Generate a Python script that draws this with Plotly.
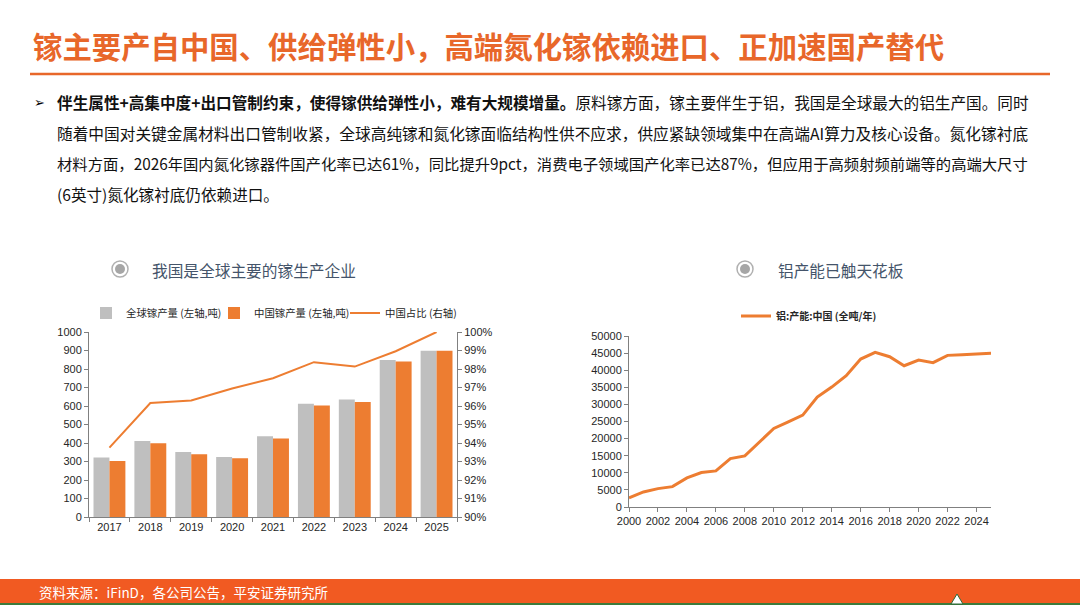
import plotly.graph_objects as go

W, H = 1080, 608

# 左图：镓产量 (吨) 与中国占比
years_ga = ["2017", "2018", "2019", "2020", "2021", "2022", "2023", "2024", "2025"]
global_ga = [321, 411, 352, 325, 436, 612, 635, 849, 899]
china_ga = [303, 398, 339, 318, 425, 603, 621, 840, 899]
china_share = [0.9375, 0.9616, 0.9630, 0.9695, 0.9750, 0.9837, 0.9813, 0.9896, 1.0]

# 右图：中国铝产能
years_al = list(range(2000, 2026))
al_capacity = [2640, 4400, 5370, 5960, 8500, 10060, 10550, 14160, 14940, 18950,
               22950, 24900, 26860, 32130, 35060, 38380, 43260, 45210, 43950, 41310,
               42970, 42190, 44340, 44530, 44730, 44920]

ORANGE = "#ED7D31"
GREY = "#BFBFBF"
TITLE_ORANGE = "#E8672A"
CJK = "Noto Sans CJK SC"
TICK_FONT = dict(family="Liberation Sans, Arial", size=11, color="#262626")


def px(x):
    return x / W


def py(y):
    return 1 - y / H


def legend_at(x, y, size=10.4):
    return dict(orientation="h", x=px(x), y=py(y), xanchor="left", yanchor="middle",
                font=dict(family=CJK, size=size, color="#262626"),
                bgcolor="rgba(0,0,0,0)", itemwidth=30, borderwidth=0)


fig = go.Figure()

fig.add_trace(go.Bar(x=years_ga, y=global_ga, name="全球镓产量 (左轴,吨)",
                     marker_color=GREY, xaxis="x", yaxis="y", legend="legend"))
fig.add_trace(go.Bar(x=years_ga, y=china_ga, name="中国镓产量 (左轴,吨)",
                     marker_color=ORANGE, xaxis="x", yaxis="y", legend="legend3"))
fig.add_trace(go.Scatter(x=years_ga, y=china_share, name="中国占比 (右轴)", mode="lines",
                         line=dict(color=ORANGE, width=2), xaxis="x", yaxis="y2",
                         legend="legend4"))
fig.add_trace(go.Scatter(x=years_al, y=al_capacity, name="<b>铝:产能:中国 (全吨/年)</b>",
                         mode="lines", line=dict(color=ORANGE, width=3),
                         xaxis="x2", yaxis="y3", legend="legend2"))

axis_line = dict(showline=True, linecolor="#808080", linewidth=1, ticks="outside",
                 ticklen=4, tickcolor="#808080", showgrid=False, zeroline=False,
                 tickfont=TICK_FONT, automargin=False)

fig.update_layout(
    template="none",
    width=W, height=H, margin=dict(l=0, r=0, t=0, b=0, pad=0, autoexpand=False),
    paper_bgcolor="white", plot_bgcolor="white",
    barmode="group", bargap=0.22, bargroupgap=0,
    xaxis=dict(domain=[px(89), px(457)], anchor="y", type="category",
               range=[-0.5, 8.5], tickson="boundaries", **axis_line),
    yaxis=dict(domain=[py(517), py(332)], anchor="x", range=[0, 1000], dtick=100,
               **axis_line),
    yaxis2=dict(overlaying="y", side="right", anchor="x", range=[0.90, 1.00],
                dtick=0.01, tickformat=".0%", **axis_line),
    xaxis2=dict(domain=[px(629), px(991)], anchor="y3", range=[2000, 2025],
                dtick=2, tick0=2000, **axis_line),
    yaxis3=dict(domain=[py(507), py(336)], anchor="x2", range=[0, 50000],
                dtick=5000, tickformat="d", **axis_line),
    legend=legend_at(86, 313),
    legend3=legend_at(214, 313),
    legend4=legend_at(345, 313),
    legend2=legend_at(736, 316, 10),
    showlegend=True,
)

shapes = [
    # 标题下划线
    dict(type="line", x0=px(30), x1=px(1050), y0=py(74), y1=py(74),
         line=dict(color=TITLE_ORANGE, width=2.5)),
    # 底部橙色条
    dict(type="rect", x0=0, x1=1, y0=py(603), y1=py(579), fillcolor="#F15A22",
         line=dict(width=0), layer="below"),
    dict(type="rect", x0=0, x1=1, y0=py(605), y1=py(603), fillcolor="#3C7A3C",
         line=dict(width=0)),
    # logo
    dict(type="path", path=f"M {px(951)},{py(604)} L {px(957)},{py(594)} L {px(963)},{py(604)} Z",
         fillcolor="white", line=dict(color="#2E6B3A", width=1)),
]
# 小标题圆形图标
for cx, cy in [(120, 269), (745, 269)]:
    shapes.append(dict(type="circle", x0=px(cx - 8), x1=px(cx + 8), y0=py(cy + 8),
                       y1=py(cy - 8), line=dict(color="#B0B0B0", width=1.5),
                       fillcolor="white"))
    shapes.append(dict(type="circle", x0=px(cx - 5), x1=px(cx + 5), y0=py(cy + 5),
                       y1=py(cy - 5), line=dict(width=0), fillcolor="#A6A6A6"))
for s in shapes:
    s.setdefault("xref", "paper")
    s.setdefault("yref", "paper")
fig.update_layout(shapes=shapes)

lines = [
    "<b>伴生属性+高集中度+出口管制约束，使得镓供给弹性小，难有大规模增量。</b>"
    "原料镓方面，镓主要伴生于铝，我国是全球最大的铝生产国。同时",
    "随着中国对关键金属材料出口管制收紧，全球高纯镓和氮化镓面临结构性供不应求，"
    "供应紧缺领域集中在高端AI算力及核心设备。氮化镓衬底",
    "材料方面，2026年国内氮化镓器件国产化率已达61%，同比提升9pct，"
    "消费电子领域国产化率已达87%，但应用于高频射频前端等的高端大尺寸",
    "(6英寸)氮化镓衬底仍依赖进口。",
]
line_y = [102, 133, 163, 194]
line_size = [15.64, 15.69, 15.33, 15.6]

annotations = [
    dict(text="<b>镓主要产自中国、供给弹性小，高端氮化镓依赖进口、正加速国产替代</b>",
         x=px(31), y=py(45), font=dict(family=CJK, size=29.4, color=TITLE_ORANGE)),
    dict(text="➢", x=px(32), y=py(102),
         font=dict(family="DejaVu Sans", size=13, color="#000000")),
    dict(text="我国是全球主要的镓生产企业", x=px(150), y=py(270),
         font=dict(family=CJK, size=15.7, color="#44546A")),
    dict(text="铝产能已触天花板", x=px(776), y=py(270),
         font=dict(family=CJK, size=15.7, color="#44546A")),
    dict(text="资料来源：iFinD，各公司公告，平安证券研究所", x=px(37), y=py(592),
         font=dict(family=CJK, size=13.5, color="white")),
]
for t, yy, sz in zip(lines, line_y, line_size):
    annotations.append(dict(text=t, x=px(55), y=py(yy),
                            font=dict(family=CJK, size=sz, color="#111111")))
for a in annotations:
    a.update(xref="paper", yref="paper", xanchor="left", yanchor="middle",
             showarrow=False)
fig.update_layout(annotations=annotations)

fig.write_html("out.html", config={"displayModeBar": False},
               post_script="document.body.style.margin='0px';")
